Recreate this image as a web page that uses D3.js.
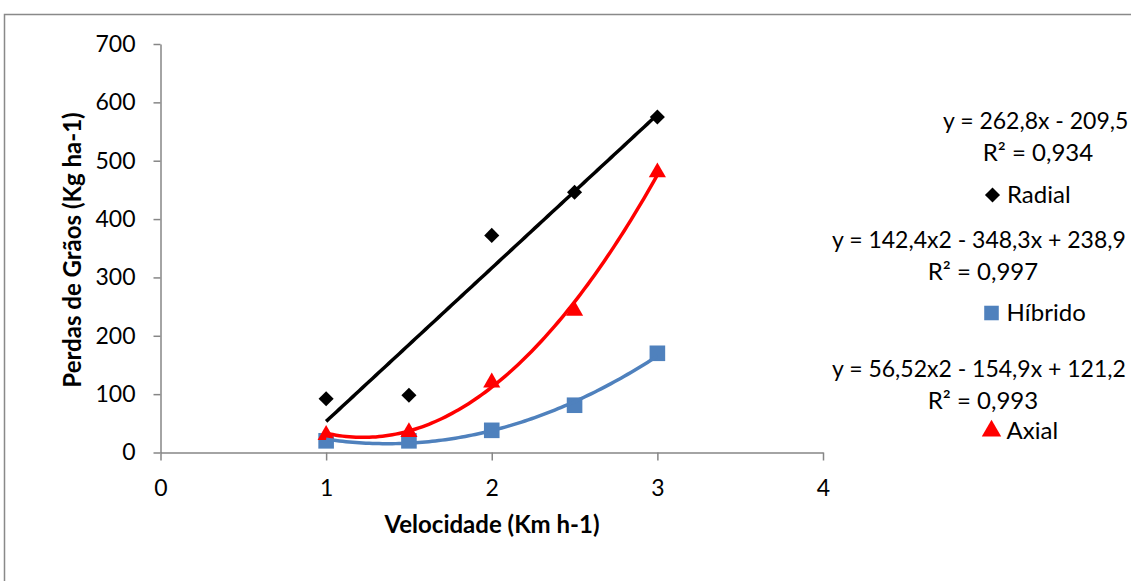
<!DOCTYPE html>
<html>
<head>
<meta charset="utf-8">
<script src="https://cdn.jsdelivr.net/npm/d3@7"></script>
<style>
  body { margin: 0; background: #fff; }
  svg { display: block; font-family: Lato, "Open Sans", sans-serif; }
  .axis path, .axis line { stroke: #868686; stroke-width: 1.5; }
</style>
</head>
<body>
<div id="chart"></div>
<script>
// velocidade (km/h)
const xValues = [1, 1.5, 2, 2.5, 3];
// perdas de grãos (kg/ha)
const radial = [92, 98, 372, 446, 575];
const hibrido = [20, 20, 38, 81, 170];
const axial = [30, 35, 120, 243, 480];

// trendline coefficients c0 + c1*x + c2*x^2
const radialFit = [-209.5, 262.8, 0];
const hibridoFit = [121.2, -154.9, 56.52];
const axialFit = [238.9, -348.3, 142.4];

const xTicks = [0, 1, 2, 3, 4];
const yTicks = [0, 100, 200, 300, 400, 500, 600, 700];

const equations = ['y = 262,8x - 209,5', 'y = 142,4x2 - 348,3x + 238,9', 'y = 56,52x2 - 154,9x + 121,2'];
const rSquared = ['R² = 0,934', 'R² = 0,997', 'R² = 0,993'];

const width = 1131, height = 581;

const svg = d3.select('#chart').append('svg')
  .attr('width', width)
  .attr('height', height);

// outer frame
svg.append('rect')
  .attr('x', 4.5).attr('y', 14.5)
  .attr('width', 1300).attr('height', 800)
  .attr('fill', '#fff')
  .attr('stroke', '#898989')
  .attr('stroke-width', 1.5);

const x = d3.scaleLinear().domain([0, 4]).range([160.5, 823]);
const y = d3.scaleLinear().domain([0, 700]).range([452.5, 44]);

// axes
svg.append('g')
  .attr('class', 'axis')
  .attr('transform', `translate(${x(0)},0)`)
  .call(d3.axisLeft(y).tickValues(yTicks).tickFormat(d3.format('d'))
    .tickSize(7).tickSizeOuter(0).tickPadding(18))
  .attr('font-family', null)
  .attr('font-size', 23);

svg.append('g')
  .attr('class', 'axis')
  .attr('transform', `translate(0,${y(0)})`)
  .call(d3.axisBottom(x).tickValues(xTicks).tickFormat(d3.format('d'))
    .tickSize(8).tickSizeOuter(0).tickPadding(19))
  .attr('font-family', null)
  .attr('font-size', 23);

// axis titles
svg.append('text')
  .attr('x', 492)
  .attr('y', 533)
  .attr('text-anchor', 'middle')
  .attr('font-weight', 'bold')
  .attr('font-size', 24)
  .text('Velocidade (Km h-1)');

svg.append('text')
  .attr('transform', 'translate(81,250) rotate(-90)')
  .attr('text-anchor', 'middle')
  .attr('font-weight', 'bold')
  .attr('font-size', 24)
  .text('Perdas de Grãos (Kg ha-1)');

const series = [
  { name: 'Radial', values: radial, color: '#000000', symbol: d3.symbolDiamond2, size: 145, fit: radialFit },
  { name: 'Híbrido', values: hibrido, color: '#4F81BD', symbol: d3.symbolSquare2, size: 310, fit: hibridoFit },
  { name: 'Axial', values: axial, color: '#FF0000', symbol: d3.symbolTriangle2, size: 210, fit: axialFit }
];

// markers
series.forEach(s => {
  svg.append('g')
    .selectAll('path')
    .data(s.values)
    .enter().append('path')
    .attr('transform', (d, i) => `translate(${x(xValues[i])},${y(d)})`)
    .attr('d', d3.symbol().type(s.symbol).size(s.size))
    .attr('fill', s.color);
});

// trendlines
const line = d3.line().x(d => x(d[0])).y(d => y(d[1]));
series.forEach(s => {
  const pts = d3.range(0, 101).map(k => {
    const xv = 1 + 2 * k / 100;
    return [xv, s.fit[0] + s.fit[1] * xv + s.fit[2] * xv * xv];
  });
  svg.append('path')
    .datum(pts)
    .attr('d', line)
    .attr('fill', 'none')
    .attr('stroke', s.color)
    .attr('stroke-width', 3.5);
});

// legend area: equations, R² and series keys
const eqPos = [[943, 129], [832, 248], [832, 377]];
const r2Pos = [[1038, 161], [983, 280], [983, 409]];
equations.forEach((t, i) => {
  svg.append('text')
    .attr('x', eqPos[i][0])
    .attr('y', eqPos[i][1])
    .attr('font-size', 23)
    .text(t);
  svg.append('text')
    .attr('x', r2Pos[i][0])
    .attr('y', r2Pos[i][1])
    .attr('text-anchor', 'middle')
    .attr('font-size', 24)
    .text(rSquared[i]);
});

const keyPos = [[992.5, 203], [991.5, 321], [991.5, 439]];
series.forEach((s, i) => {
  const k = svg.append('g').attr('transform', `translate(${keyPos[i][0]},${keyPos[i][1]})`);
  k.append('path')
    .attr('transform', 'translate(0,-8)')
    .attr('d', d3.symbol().type(s.symbol).size(i === 0 ? 145 : 270))
    .attr('fill', s.color);
  k.append('text')
    .attr('x', i === 0 ? 14.5 : 15)
    .attr('font-size', 24)
    .text(s.name);
});
</script>
</body>
</html>
